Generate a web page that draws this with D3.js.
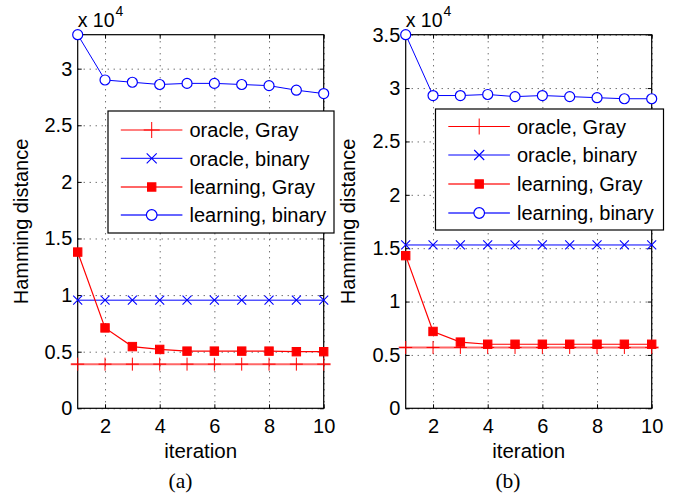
<!DOCTYPE html>
<html>
<head>
<meta charset="utf-8">
<script src="https://cdn.jsdelivr.net/npm/d3@7"></script>
<style>
  body { margin: 0; background: #fff; }
  svg { display: block; }
</style>
</head>
<body>
<svg width="676" height="496"></svg>
<script>
// values are in units of 10^4
const iterations = [1, 2, 3, 4, 5, 6, 7, 8, 9, 10];
const xTicks = [2, 4, 6, 8, 10];
const yTicksA = [0, 0.5, 1, 1.5, 2, 2.5, 3];
const yTicksB = [0, 0.5, 1, 1.5, 2, 2.5, 3, 3.5];

// panel (a)
const oracleGrayA = [0.39, 0.39, 0.39, 0.39, 0.39, 0.39, 0.39, 0.39, 0.39, 0.39];
const oracleBinaryA = [0.955, 0.955, 0.955, 0.955, 0.955, 0.955, 0.955, 0.955, 0.955, 0.955];
const learningGrayA = [1.38, 0.71, 0.545, 0.52, 0.505, 0.505, 0.505, 0.505, 0.5, 0.5];
const learningBinaryA = [3.3, 2.9, 2.88, 2.86, 2.87, 2.87, 2.86, 2.85, 2.81, 2.78];

// panel (b)
const oracleGrayB = [0.57, 0.57, 0.57, 0.57, 0.57, 0.57, 0.57, 0.57, 0.57, 0.57];
const oracleBinaryB = [1.53, 1.53, 1.53, 1.53, 1.53, 1.53, 1.53, 1.53, 1.53, 1.53];
const learningGrayB = [1.43, 0.72, 0.62, 0.6, 0.6, 0.6, 0.6, 0.6, 0.6, 0.6];
const learningBinaryB = [3.5, 2.93, 2.93, 2.94, 2.92, 2.93, 2.92, 2.91, 2.9, 2.9];

const legendLabels = ['oracle, Gray', 'oracle, binary', 'learning, Gray', 'learning, binary'];

const svg = d3.select('svg');
const FONT = '"Liberation Sans", Arial, Helvetica, sans-serif';
const RED = '#ff0000';
const BLUE = '#0000ff';

// marker painters
function plus(sel, color, h) {
  sel.append('path').attr('d', `M${-h},0H${h}M0,${-h}V${h}`)
    .attr('stroke', color).attr('stroke-width', 1).attr('fill', 'none');
}
function cross(sel, color, h) {
  sel.append('path').attr('d', `M${-h},${-h}L${h},${h}M${-h},${h}L${h},${-h}`)
    .attr('stroke', color).attr('stroke-width', 1.1).attr('fill', 'none');
}
function square(sel, color, h) {
  sel.append('rect').attr('x', -h).attr('y', -h).attr('width', 2 * h).attr('height', 2 * h)
    .attr('fill', color).attr('stroke', color).attr('stroke-width', 1);
}
function circle(sel, color, r) {
  sel.append('circle').attr('r', r).attr('fill', '#fff')
    .attr('stroke', color).attr('stroke-width', 1.2);
}

function drawPanel(p) {
  const x = d3.scaleLinear().domain([1, 10]).range([p.left, p.left + 246]);
  const y = d3.scaleLinear().domain([0, p.yMax]).range([408.3, 34.7]);
  const H = y(0) - y(p.yMax);
  const W = x(10) - x(1);
  const g = svg.append('g');

  // dotted grid
  g.append('g')
    .attr('transform', `translate(0,${y(0)})`)
    .call(d3.axisBottom(x).tickValues(xTicks).tickSize(-H).tickFormat(''))
    .call(s => {
      s.select('.domain').remove();
      s.selectAll('line').attr('stroke', '#333').attr('stroke-dasharray', '1,5');
    });
  g.append('g')
    .attr('transform', `translate(${x(1)},0)`)
    .call(d3.axisLeft(y).tickValues(p.yTicks).tickSize(-W).tickFormat(''))
    .call(s => {
      s.select('.domain').remove();
      s.selectAll('line').attr('stroke', '#333').attr('stroke-dasharray', '1,5');
    });

  // box
  g.append('rect')
    .attr('x', x(1)).attr('y', y(p.yMax))
    .attr('width', W).attr('height', H)
    .attr('fill', 'none').attr('stroke', '#000').attr('stroke-width', 1.2);

  // axes with inward ticks
  g.append('g')
    .attr('transform', `translate(0,${y(0)})`)
    .call(d3.axisBottom(x).tickValues(xTicks).tickSize(-4).tickPadding(11))
    .call(s => {
      s.select('.domain').remove();
      s.selectAll('text').attr('font-family', FONT).attr('font-size', 20).attr('fill', '#000');
    });
  g.append('g')
    .attr('transform', `translate(0,${y(p.yMax)})`)
    .call(d3.axisTop(x).tickValues(xTicks).tickSize(-4).tickFormat(''))
    .call(s => s.select('.domain').remove());
  g.append('g')
    .attr('transform', `translate(${x(1)},0)`)
    .call(d3.axisLeft(y).tickValues(p.yTicks).tickSize(-4).tickPadding(5.4).tickFormat(d => String(d)))
    .call(s => {
      s.select('.domain').remove();
      s.selectAll('text').attr('font-family', FONT).attr('font-size', 20).attr('fill', '#000');
    });
  g.append('g')
    .attr('transform', `translate(${x(10)},0)`)
    .call(d3.axisRight(y).tickValues(p.yTicks).tickSize(-4).tickFormat(''))
    .call(s => s.select('.domain').remove());

  // axis labels
  g.append('text')
    .attr('x', (x(1) + x(10)) / 2).attr('y', 458)
    .attr('text-anchor', 'middle')
    .attr('font-family', FONT).attr('font-size', 20.5)
    .text('iteration');
  g.append('text')
    .attr('transform', `translate(${p.yLabelX},${(y(0) + y(p.yMax)) / 2}) rotate(-90)`)
    .attr('text-anchor', 'middle')
    .attr('font-family', FONT).attr('font-size', 20)
    .text('Hamming distance');
  const mult = g.append('text')
    .attr('x', x(1)).attr('y', 27.3)
    .attr('font-family', FONT).attr('font-size', 19.5);
  mult.append('tspan').text('x 10');
  mult.append('tspan').attr('dx', 1).attr('dy', -11).attr('font-size', 14).text('4');

  g.append('text')
    .attr('x', p.captionX).attr('y', 488)
    .attr('text-anchor', 'middle')
    .attr('font-family', '"Liberation Serif", "Times New Roman", serif').attr('font-size', 21.5)
    .text(p.caption);

  // series
  const line = d3.line().x((d, i) => x(iterations[i])).y(d => y(d));

  // oracle, Gray (drawn a little past the axes, as in the figure)
  g.append('path')
    .attr('d', d3.line()([[x(1) - 7, y(p.oracleGray[0])], [x(10) + 7, y(p.oracleGray[9])]]))
    .attr('stroke', RED).attr('stroke-opacity', 0.6).attr('stroke-width', 2).attr('fill', 'none');
  p.oracleGray.forEach((v, i) => {
    g.append('g').attr('transform', `translate(${x(iterations[i])},${y(v)})`).call(plus, RED, 6.5);
  });

  g.append('path').attr('d', line(p.oracleBinary))
    .attr('stroke', BLUE).attr('stroke-width', 1).attr('fill', 'none');
  p.oracleBinary.forEach((v, i) => {
    g.append('g').attr('transform', `translate(${x(iterations[i])},${y(v)})`).call(cross, BLUE, 4.5);
  });

  g.append('path').attr('d', line(p.learningGray))
    .attr('stroke', RED).attr('stroke-width', 1.2).attr('fill', 'none');
  p.learningGray.forEach((v, i) => {
    g.append('g').attr('transform', `translate(${x(iterations[i])},${y(v)})`).call(square, RED, 4.2);
  });

  g.append('path').attr('d', line(p.learningBinary))
    .attr('stroke', BLUE).attr('stroke-width', 1).attr('fill', 'none');
  p.learningBinary.forEach((v, i) => {
    g.append('g').attr('transform', `translate(${x(iterations[i])},${y(v)})`).call(circle, BLUE, 5);
  });

  // legend
  const L = p.legend;
  const lg = g.append('g').attr('transform', `translate(${L.x},${L.y})`);
  lg.append('rect').attr('width', L.w).attr('height', L.h)
    .attr('fill', '#fff').attr('stroke', '#000').attr('stroke-width', 1.2);
  const painters = [
    [plus, RED, 8, 1, 1],
    [cross, BLUE, 5, 1, 1],
    [square, RED, 4.2, 0.6, 2],
    [circle, BLUE, 5.3, 0.6, 2]
  ];
  legendLabels.forEach((label, i) => {
    const ry = L.rows[i];
    const [paint, color, size, op, sw] = painters[i];
    lg.append('line').attr('x1', 12.8).attr('x2', 74.4).attr('y1', ry).attr('y2', ry)
      .attr('stroke', color).attr('stroke-opacity', op).attr('stroke-width', sw);
    lg.append('g').attr('transform', `translate(43.7,${ry})`).call(paint, color, size);
    lg.append('text').attr('x', 81.5).attr('y', ry).attr('dy', '0.36em')
      .attr('font-family', FONT).attr('font-size', 20)
      .text(label);
  });
}

drawPanel({
  left: 77.7, yMax: 3.3, yTicks: yTicksA, yLabelX: 28, caption: '(a)', captionX: 180.5,
  oracleGray: oracleGrayA, oracleBinary: oracleBinaryA,
  learningGray: learningGrayA, learningBinary: learningBinaryA,
  legend: { x: 108, y: 111, w: 226, h: 122, rows: [19, 47.3, 76, 104] }
});
drawPanel({
  left: 405.7, yMax: 3.5, yTicks: yTicksB, yLabelX: 354.5, caption: '(b)', captionX: 508,
  oracleGray: oracleGrayB, oracleBinary: oracleBinaryB,
  learningGray: learningGrayB, learningBinary: learningBinaryB,
  legend: { x: 435.5, y: 109, w: 228, h: 121, rows: [17.5, 46, 75, 104] }
});
</script>
</body>
</html>
